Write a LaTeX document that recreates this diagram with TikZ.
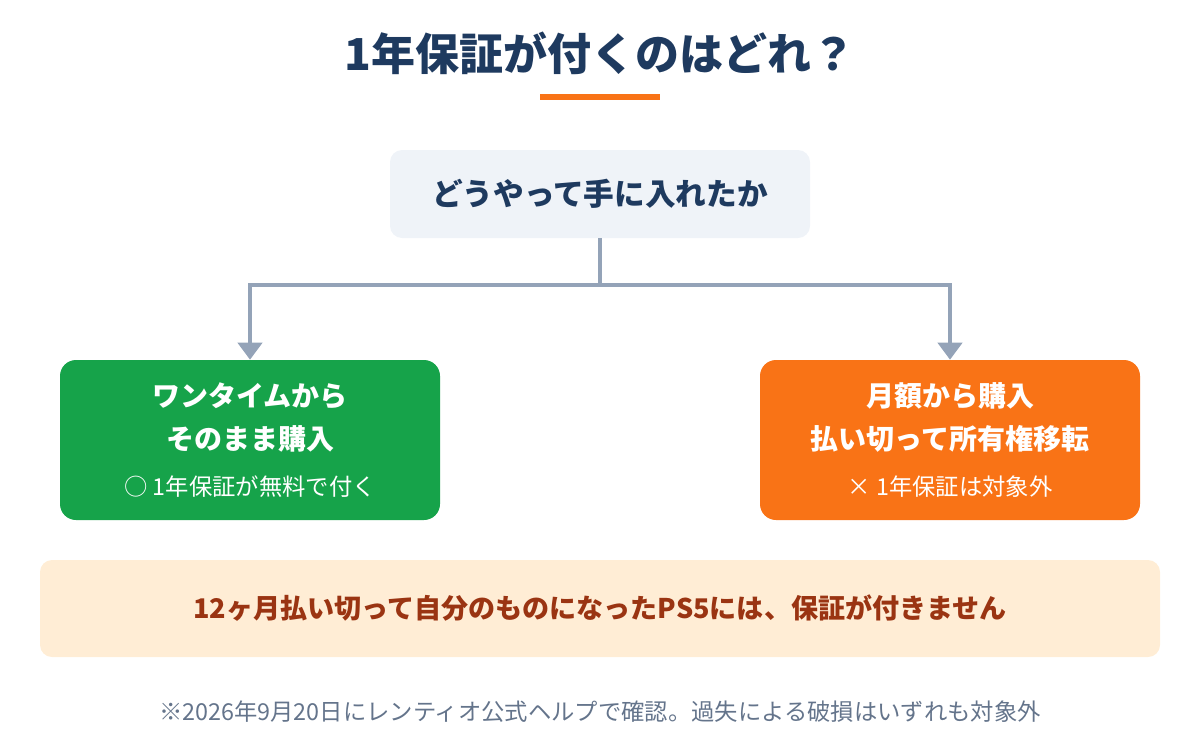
\documentclass[tikz,border=0pt]{standalone}
\usepackage{fontspec}
\setmainfont{Noto Sans CJK JP}
\usepackage{tikz}
\usetikzlibrary{arrows.meta,positioning}
\definecolor{GuideNavy}{HTML}{1E3A5F}
\definecolor{GuideOrange}{HTML}{F97316}
\definecolor{GuideGreen}{HTML}{16A34A}
\definecolor{GuideMist}{HTML}{EFF3F8}
\definecolor{GuideSlate}{HTML}{94A3B8}
\definecolor{GuidePeach}{HTML}{FFEDD5}
\definecolor{GuideBrown}{HTML}{9A3412}
\definecolor{GuideGray}{HTML}{64748B}
\tikzset{
  pick/title/.style={font=\fontsize{33}{38}\selectfont\bfseries, text=GuideNavy, inner sep=0pt},
  pick/bar/.style={fill=GuideOrange, minimum width=90pt, minimum height=4.5pt, inner sep=0pt},
  pick/question/.style={fill=GuideMist, rounded corners=9pt, minimum width=315pt, minimum height=66pt, align=center, text=GuideNavy, font=\fontsize{23}{28}\selectfont\bfseries},
  pick/choice/.style={rounded corners=12pt, minimum width=285pt, minimum height=120pt, align=center, text=white, font=\fontsize{21}{32.25}\selectfont\bfseries},
  pick/note/.style={fill=GuidePeach, rounded corners=9pt, minimum width=840pt, minimum height=72.75pt, align=center, text=GuideBrown, font=\fontsize{20.3}{24}\selectfont\bfseries},
  pick/foot/.style={text=GuideGray, font=\fontsize{17.5}{21}\selectfont},
  pick/line/.style={draw=GuideSlate, line width=3pt},
  pick/arr/.style={pick/line, -{Triangle[length=12.75pt,width=18pt]}}
}
\newcommand\subline[1]{\\[2pt]{\fontsize{17.5}{20}\selectfont\mdseries #1}}

\begin{document}
\begin{tikzpicture}[x=0.75pt,y=-0.75pt]
\useasboundingbox (0,0) rectangle (1200,750);
\node[pick/title] (title) at (600,53) {1年保証が付くのはどれ？};
\node[pick/bar] (bar) at (600,97) {};
\node[pick/question] (how) at (600,194) {どうやって手に入れたか};
\node[pick/choice,fill=GuideGreen] (onetime) at (250,440) {ワンタイムから\\そのまま購入\subline{○ 1年保証が無料で付く}};
\node[pick/choice,fill=GuideOrange] (monthly) at (950,440) {月額から購入\\払い切って所有権移転\subline{× 1年保証は対象外}};
\node[pick/note] (note) at (600,608.5) {12ヶ月払い切って自分のものになったPS5には、保証が付きません};
\node[pick/foot] (foot) at (600,712) {※2026年9月20日にレンティオ公式ヘルプで確認。過失による破損はいずれも対象外};
\coordinate (split) at (600,285);
\draw[pick/line] (how.south) -- (split);
\draw[pick/arr] (split) -| (onetime.north);
\draw[pick/arr] (split) -| (monthly.north);
\end{tikzpicture}
\end{document}
